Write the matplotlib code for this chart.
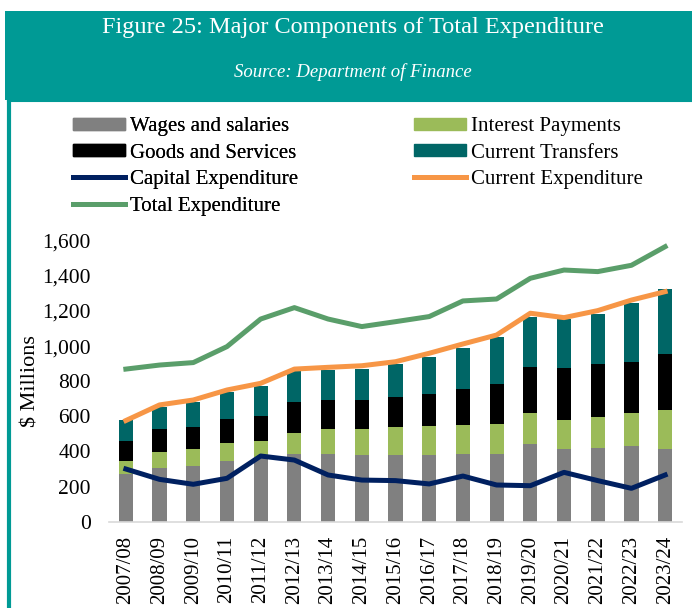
import numpy as np
import matplotlib.pyplot as plt
from matplotlib.patches import Rectangle, Patch
from matplotlib.lines import Line2D

years = ["2007/08", "2008/09", "2009/10", "2010/11", "2011/12", "2012/13", "2013/14",
         "2014/15", "2015/16", "2016/17", "2017/18", "2018/19", "2019/20", "2020/21",
         "2021/22", "2022/23", "2023/24"]

wages = [270, 304, 319, 347, 361, 384, 384, 380, 380, 382, 387, 387, 444, 414, 420, 433, 416]
interest = [77, 95, 93, 103, 98, 123, 142, 150, 157, 161, 164, 168, 175, 167, 174, 186, 222]
goods = [114, 131, 129, 137, 145, 173, 167, 165, 175, 184, 205, 231, 264, 296, 304, 292, 319]
transfers = [118, 125, 140, 150, 170, 180, 171, 175, 186, 213, 231, 268, 285, 276, 285, 333, 366]
capital = [300, 241, 213, 247, 374, 351, 266, 237, 234, 215, 260, 209, 205, 281, 234, 190, 266]
current = [576, 665, 693, 750, 788, 869, 879, 888, 911, 959, 1012, 1063, 1187, 1162, 1202, 1262, 1310]
total = [869, 892, 906, 997, 1154, 1219, 1154, 1111, 1139, 1168, 1257, 1268, 1386, 1433, 1424, 1460, 1566]

c_wages = "#808080"
c_interest = "#9BBB59"
c_goods = "#000000"
c_transfers = "#006666"
c_capital = "#002060"
c_current = "#F79646"
c_total = "#5A9E6A"
teal = "#009A95"

plt.rcParams['font.family'] = ['Liberation Serif', 'DejaVu Serif']

fig = plt.figure(figsize=(6.92, 6.08), dpi=100)

# header band and left border
fig.patches.append(Rectangle((5/692, 1 - 100/608), 1, 89/608, transform=fig.transFigure,
                             facecolor=teal, edgecolor="none", zorder=0))
fig.add_artist(Line2D([8.5/692, 8.5/692], [0, 1 - 100/608], transform=fig.transFigure,
                      color=teal, lw=3))
fig.add_artist(Line2D([8/692, 1], [1 - 101/608, 1 - 101/608], transform=fig.transFigure,
                      color=teal, lw=1.5))
fig.text(0.51, 1 - 28/608, "Figure 25: Major Components of Total Expenditure",
         ha="center", va="center", color="white", fontsize=17.5)
fig.text(0.51, 1 - 72/608, "Source: Department of Finance", ha="center", va="center",
         color="white", fontsize=13.5, style="italic")

ax = fig.add_axes([109/692, (608 - 521.7)/608, 573/692, 281/608])
x = np.arange(len(years))
w = 0.42
b1 = np.array(wages)
b2 = b1 + np.array(interest)
b3 = b2 + np.array(goods)
ax.bar(x, wages, w, color=c_wages, zorder=2)
ax.bar(x, interest, w, bottom=b1, color=c_interest, zorder=2)
ax.bar(x, goods, w, bottom=b2, color=c_goods, zorder=2)
ax.bar(x, transfers, w, bottom=b3, color=c_transfers, zorder=2)
ax.plot(x, capital, color=c_capital, lw=3.6, zorder=3)
ax.plot(x, current, color=c_current, lw=3.6, zorder=3)
ax.plot(x, total, color=c_total, lw=3.6, zorder=3)

ax.set_xlim(-0.5, len(years) - 0.5)
ax.set_ylim(0, 1600)
ax.set_yticks(range(0, 1601, 200))
ax.set_yticklabels([f"{v:,}" for v in range(0, 1601, 200)], fontsize=15.5)
ax.set_xticks(x)
ax.set_xticklabels(years, rotation=90, fontsize=15)
ax.tick_params(axis="y", length=0, pad=13)
ax.tick_params(axis="x", length=0, pad=10)
for s in ["top", "right", "left"]:
    ax.spines[s].set_visible(False)
ax.spines["bottom"].set_color("#D9D9D9")
ax.spines["bottom"].set_linewidth(1.2)
ax.set_ylabel("$ Millions", fontsize=16, labelpad=1)

left_items = [
    Patch(color=c_wages, label="Wages and salaries"),
    Patch(color=c_goods, label="Goods and Services"),
    Line2D([], [], color=c_capital, lw=3.6, label="Capital Expenditure"),
    Line2D([], [], color=c_total, lw=3.6, label="Total Expenditure"),
]
right_items = [
    Patch(color=c_interest, label="Interest Payments"),
    Patch(color=c_transfers, label="Current Transfers"),
    Line2D([], [], color=c_current, lw=3.6, label="Current Expenditure"),
]
leg_kw = dict(loc="upper left", frameon=False, fontsize=15, handlelength=2.5,
              handleheight=0.5, handletextpad=0.25, labelspacing=0.36,
              borderpad=0, borderaxespad=0)
leg1 = fig.legend(handles=left_items, bbox_to_anchor=(73/692, 1 - 117/608), **leg_kw)
fig.legend(handles=right_items, bbox_to_anchor=(414/692, 1 - 117/608), **leg_kw)
fig.add_artist(leg1)

fig.savefig("out.png", dpi=100)
